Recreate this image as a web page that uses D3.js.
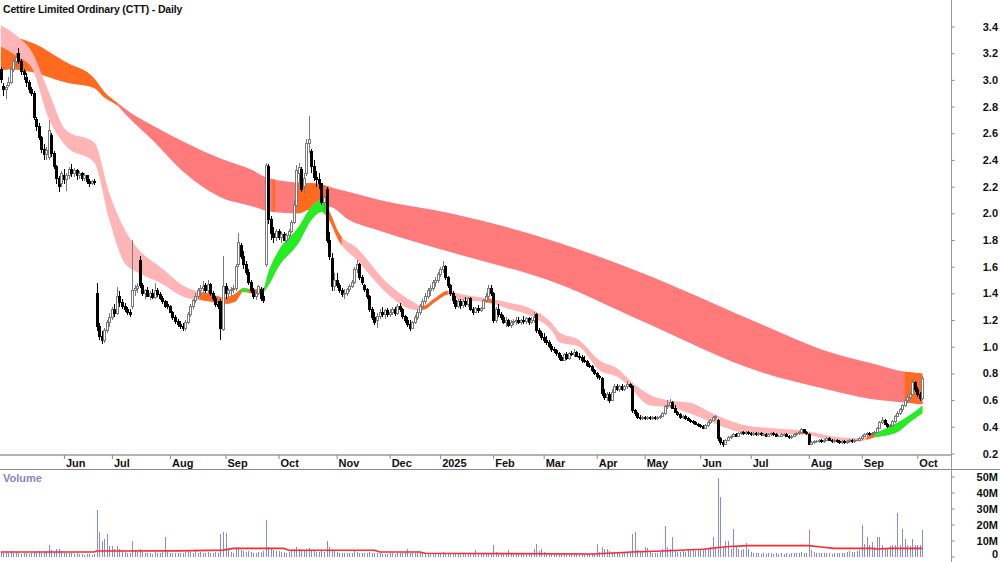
<!DOCTYPE html>
<html>
<head>
<meta charset="utf-8">
<script src="https://cdn.jsdelivr.net/npm/d3@7"></script>
<style>
  html, body { margin: 0; padding: 0; background: #fff; }
  #chart { width: 1000px; height: 562px; overflow: hidden; }
  svg { display: block; font-family: "Liberation Sans", Arial, sans-serif; }
</style>
</head>
<body>
<div id="chart"></div>
<script>
const title = "Cettire Limited Ordinary (CTT) - Daily";

//ASX holidays (no bars)
const holidays = ["2024-06-10", "2024-12-25", "2024-12-26", "2025-01-01", "2025-01-27",
  "2025-04-18", "2025-04-21", "2025-04-25", "2025-06-09"];

//daily bars: [open, high, low, close, volume (M)]
const bars2024Apr = [[3.08,3.10,2.98,3.00,3.0],[2.95,2.98,2.88,2.93,2.5]];
const bars2024May = [
  [2.93,2.96,2.86,2.94,2.0],[2.96,3.02,2.95,2.98,2.5],[2.98,3.10,2.97,3.08,3.5],[3.08,3.16,3.06,3.14,2.5],
  [3.14,3.20,3.10,3.17,3.0],[3.20,3.24,3.12,3.14,2.0],[3.14,3.16,3.04,3.06,1.8],[3.06,3.08,3.00,3.04,2.2],
  [3.02,3.05,2.95,2.98,2.5],[2.98,3.00,2.90,2.93,1.5],[2.93,2.95,2.88,2.90,2.0],[2.90,2.92,2.70,2.72,3.0],
  [2.70,2.72,2.62,2.65,2.5],[2.65,2.68,2.55,2.57,3.5],[2.57,2.58,2.45,2.48,2.0],[2.48,2.52,2.40,2.44,3.0],
  [2.44,2.50,2.40,2.47,3.5],[2.42,2.70,2.40,2.62,7.5],[2.58,2.60,2.42,2.45,4.0],[2.45,2.47,2.33,2.35,3.0],
  [2.35,2.36,2.22,2.26,5.0],[2.26,2.28,2.16,2.20,4.5],[2.22,2.32,2.20,2.30,3.5]];
const bars2024Jun = [
  [2.28,2.33,2.22,2.25,2.5],[2.25,2.30,2.17,2.28,2.0],[2.28,2.35,2.26,2.33,2.5],[2.33,2.37,2.27,2.30,3.0],
  [2.30,2.34,2.27,2.32,1.5],[2.32,2.33,2.25,2.28,2.0],[2.28,2.32,2.26,2.30,1.5],[2.30,2.31,2.24,2.26,1.8],
  [2.26,2.30,2.24,2.28,1.2],[2.28,2.29,2.22,2.24,1.5],[2.24,2.26,2.20,2.22,1.5],[2.22,2.25,2.21,2.24,1.2],
  [2.24,2.26,2.21,2.23,1.5],[1.40,1.48,1.12,1.15,29],[1.15,1.18,1.05,1.08,15.6],[1.08,1.12,1.02,1.05,9.5],
  [1.05,1.14,1.03,1.12,11],[1.12,1.20,1.10,1.18,13.8],[1.18,1.25,1.15,1.22,6.5]];
const bars2024Jul = [
  [1.22,1.30,1.20,1.28,6.5],[1.28,1.32,1.22,1.25,5.0],[1.25,1.45,1.24,1.38,6.5],[1.38,1.42,1.30,1.33,5.0],
  [1.33,1.36,1.28,1.30,3.5],[1.30,1.33,1.26,1.28,3.0],[1.28,1.30,1.24,1.26,2.5],[1.26,1.28,1.22,1.24,2.5],
  [1.30,1.80,1.28,1.42,10],[1.42,1.46,1.38,1.44,4.0],[1.44,1.48,1.40,1.45,3.0],[1.65,1.68,1.44,1.46,4.5],
  [1.46,1.48,1.38,1.40,3.0],[1.40,1.43,1.36,1.42,2.0],[1.42,1.45,1.37,1.38,2.5],[1.38,1.42,1.35,1.40,2.0],
  [1.40,1.43,1.36,1.37,1.8],[1.37,1.48,1.36,1.42,3.0],[1.42,1.44,1.37,1.39,2.0],[1.39,1.41,1.35,1.36,2.5],
  [1.36,1.38,1.32,1.34,3.0],[1.34,1.35,1.29,1.30,12.5],[1.32,1.34,1.28,1.30,3.0]];
const bars2024Aug = [
  [1.30,1.31,1.25,1.26,2.5],[1.26,1.27,1.20,1.22,2.0],[1.22,1.24,1.17,1.19,2.5],[1.19,1.21,1.15,1.17,2.0],
  [1.17,1.19,1.13,1.15,2.5],[1.15,1.18,1.12,1.14,2.0],[1.14,1.20,1.12,1.18,3.0],[1.18,1.26,1.17,1.24,3.5],
  [1.24,1.32,1.22,1.30,3.0],[1.30,1.36,1.28,1.35,2.5],[1.35,1.40,1.33,1.38,3.5],[1.38,1.44,1.36,1.42,2.5],
  [1.42,1.46,1.38,1.44,3.0],[1.44,1.49,1.40,1.45,2.5],[1.46,1.48,1.40,1.42,2.0],[1.42,1.50,1.40,1.47,3.0],
  [1.47,1.48,1.38,1.40,2.5],[1.40,1.42,1.34,1.36,2.0],[1.36,1.38,1.30,1.32,3.0],[1.32,1.34,1.28,1.30,2.5],
  [1.34,1.36,1.05,1.14,14],[1.13,1.68,1.12,1.45,15.5]];
const bars2024Sep = [
  [1.45,1.48,1.36,1.40,14.5],[1.40,1.44,1.37,1.42,4.0],[1.42,1.45,1.38,1.43,3.0],[1.43,1.46,1.40,1.44,2.5],
  [1.44,1.62,1.42,1.60,5.0],[1.62,1.85,1.60,1.78,6.0],[1.76,1.78,1.66,1.68,4.0],[1.68,1.72,1.58,1.62,3.5],
  [1.62,1.64,1.54,1.56,3.0],[1.56,1.58,1.46,1.48,3.5],[1.48,1.50,1.40,1.42,3.0],[1.42,1.44,1.36,1.38,2.5],
  [1.38,1.42,1.35,1.40,2.5],[1.40,1.46,1.39,1.45,3.0],[1.43,1.45,1.34,1.36,3.0],[1.38,1.44,1.33,1.35,3.5],
  [1.62,2.38,1.60,2.36,23],[2.35,2.37,1.92,1.95,6.0],[1.95,1.98,1.80,1.85,4.5],[1.85,1.90,1.78,1.82,4.0],
  [1.82,1.88,1.79,1.86,3.5]];
const bars2024Oct = [
  [1.86,1.88,1.80,1.82,3.5],[1.82,1.86,1.78,1.84,3.0],[1.84,1.86,1.79,1.80,3.0],[1.80,1.85,1.78,1.83,2.5],
  [1.83,1.88,1.81,1.86,3.0],[1.86,1.95,1.85,1.93,4.0],[1.93,2.10,1.92,2.06,4.5],[2.06,2.36,2.05,2.32,6.0],
  [2.30,2.38,2.22,2.34,5.0],[2.33,2.35,2.16,2.18,4.0],[2.20,2.30,2.15,2.26,3.5],[2.30,2.56,2.28,2.52,5.0],
  [2.52,2.73,2.45,2.55,5.5],[2.46,2.48,2.30,2.35,4.0],[2.35,2.40,2.24,2.27,3.5],[2.27,2.32,2.20,2.25,3.0],
  [2.25,2.30,2.18,2.22,3.0],[2.22,2.23,2.06,2.08,3.5],[2.08,2.14,2.02,2.12,3.0],[2.18,2.20,1.78,1.80,9.5],
  [1.80,1.86,1.65,1.68,6.0],[1.66,1.70,1.42,1.45,5.0],[1.45,1.55,1.42,1.50,3.5]];
const bars2024Nov = [
  [1.50,1.55,1.44,1.46,3.0],[1.46,1.48,1.40,1.42,2.5],[1.42,1.44,1.37,1.39,2.0],[1.39,1.43,1.36,1.40,2.0],
  [1.40,1.44,1.38,1.43,2.5],[1.43,1.47,1.41,1.45,2.0],[1.45,1.50,1.44,1.48,2.5],[1.48,1.60,1.47,1.58,3.5],
  [1.58,1.65,1.55,1.62,3.0],[1.62,1.63,1.50,1.52,2.5],[1.52,1.54,1.46,1.48,2.0],[1.46,1.47,1.41,1.43,2.0],
  [1.43,1.44,1.36,1.38,2.5],[1.38,1.39,1.26,1.28,3.0],[1.28,1.30,1.20,1.22,2.5],[1.22,1.26,1.16,1.18,2.5],
  [1.20,1.25,1.14,1.23,2.0],[1.23,1.28,1.21,1.26,2.0],[1.26,1.30,1.22,1.24,1.5],[1.24,1.28,1.21,1.27,1.8],
  [1.27,1.29,1.22,1.24,1.5]];
const bars2024Dec = [
  [1.24,1.28,1.22,1.26,2.0],[1.26,1.30,1.24,1.28,2.0],[1.28,1.30,1.23,1.25,1.5],[1.25,1.32,1.24,1.30,2.5],
  [1.30,1.33,1.26,1.28,2.0],[1.28,1.29,1.21,1.23,2.5],[1.23,1.24,1.18,1.20,3.0],[1.20,1.22,1.15,1.17,5.0],
  [1.17,1.20,1.12,1.14,2.5],[1.14,1.19,1.13,1.18,2.0],[1.18,1.24,1.17,1.22,2.5],[1.22,1.28,1.20,1.26,2.0],
  [1.26,1.32,1.24,1.30,2.5],[1.30,1.36,1.28,1.34,2.0],[1.34,1.40,1.32,1.38,2.5],[1.38,1.44,1.36,1.42,2.0],
  [1.42,1.46,1.38,1.44,1.5],[1.44,1.50,1.42,1.48,2.0],[1.48,1.52,1.45,1.50,1.5],[1.50,1.56,1.48,1.54,2.0]];
const bars2025Jan = [
  [1.54,1.60,1.52,1.58,2.5],[1.58,1.64,1.55,1.60,3.0],[1.60,1.61,1.50,1.52,2.5],[1.52,1.53,1.44,1.46,2.5],
  [1.46,1.47,1.38,1.40,2.0],[1.40,1.42,1.32,1.35,2.5],[1.35,1.38,1.28,1.30,2.0],[1.30,1.36,1.29,1.34,2.0],
  [1.34,1.36,1.28,1.31,1.5],[1.31,1.36,1.29,1.34,2.0],[1.34,1.37,1.30,1.32,1.5],[1.32,1.37,1.30,1.36,2.0],
  [1.36,1.37,1.27,1.28,2.5],[1.28,1.30,1.24,1.26,2.0],[1.26,1.30,1.25,1.29,4.0],[1.29,1.31,1.25,1.27,2.0],
  [1.27,1.30,1.26,1.29,1.5],[1.29,1.36,1.28,1.35,2.0],[1.35,1.40,1.33,1.38,2.5],[1.38,1.46,1.36,1.44,2.5],
  [1.44,1.46,1.38,1.40,2.0]];
const bars2025Feb = [
  [1.40,1.41,1.18,1.20,7.0],[1.20,1.30,1.18,1.28,3.0],[1.28,1.32,1.22,1.24,2.5],[1.24,1.26,1.20,1.22,2.0],
  [1.22,1.24,1.17,1.18,2.5],[1.18,1.22,1.15,1.20,2.0],[1.20,1.21,1.15,1.16,4.0],[1.16,1.20,1.14,1.18,2.0],
  [1.18,1.21,1.16,1.19,1.5],[1.19,1.22,1.16,1.20,2.0],[1.20,1.22,1.17,1.18,1.5],[1.18,1.21,1.16,1.20,2.0],
  [1.20,1.23,1.17,1.19,1.5],[1.19,1.22,1.17,1.21,2.0],[1.21,1.22,1.16,1.18,1.5],[1.18,1.22,1.17,1.20,2.0],
  [1.20,1.26,1.18,1.22,5.0],[1.24,1.25,1.10,1.12,8.0],[1.12,1.14,1.08,1.10,3.5],[1.10,1.12,1.05,1.07,5.0]];
const bars2025Mar = [
  [1.07,1.10,1.03,1.05,3.0],[1.05,1.08,1.01,1.03,2.5],[1.03,1.05,0.99,1.00,2.0],[1.00,1.02,0.96,0.98,2.5],
  [0.98,1.00,0.95,0.97,2.0],[0.97,0.98,0.93,0.95,2.0],[0.95,0.96,0.90,0.92,2.5],[0.92,0.94,0.89,0.90,2.0],
  [0.90,0.95,0.89,0.94,2.5],[0.94,0.96,0.90,0.91,1.5],[0.91,0.96,0.90,0.95,2.0],[0.95,0.97,0.93,0.94,1.5],
  [0.94,0.98,0.92,0.96,2.0],[0.96,0.97,0.92,0.93,1.5],[0.93,0.95,0.90,0.92,1.5],[0.92,0.94,0.88,0.90,2.0],
  [0.90,0.93,0.88,0.89,1.5],[0.89,0.90,0.85,0.86,2.0],[0.86,0.88,0.84,0.85,1.5],[0.85,0.86,0.81,0.82,2.0],
  [0.82,0.83,0.79,0.80,2.5]];
const bars2025Apr = [
  [0.80,0.81,0.76,0.78,8.0],[0.78,0.79,0.75,0.77,3.0],[0.76,0.77,0.63,0.65,6.0],[0.65,0.68,0.60,0.62,5.0],
  [0.62,0.66,0.59,0.64,5.0],[0.64,0.66,0.58,0.60,3.5],[0.60,0.68,0.59,0.66,3.0],[0.66,0.72,0.65,0.70,3.0],
  [0.70,0.72,0.67,0.68,2.5],[0.68,0.71,0.66,0.70,2.0],[0.70,0.72,0.67,0.68,2.0],[0.68,0.71,0.67,0.70,2.0],
  [0.70,0.74,0.68,0.72,2.5],[0.72,0.73,0.69,0.70,2.0],[0.70,0.71,0.50,0.52,14],[0.52,0.53,0.48,0.50,15.5],
  [0.50,0.51,0.46,0.47,4.0],[0.47,0.49,0.45,0.46,3.0],[0.46,0.48,0.45,0.47,3.5]];
const bars2025May = [
  [0.47,0.48,0.45,0.46,6.0],[0.46,0.48,0.45,0.47,5.5],[0.47,0.48,0.45,0.46,3.0],[0.46,0.48,0.45,0.47,2.5],
  [0.47,0.48,0.45,0.46,2.0],[0.46,0.48,0.45,0.47,2.5],[0.47,0.49,0.46,0.48,3.0],[0.48,0.51,0.47,0.50,4.5],
  [0.50,0.56,0.49,0.55,19],[0.55,0.60,0.53,0.56,6.0],[0.56,0.61,0.54,0.58,5.0],[0.58,0.59,0.53,0.54,12.5],
  [0.54,0.56,0.50,0.51,4.0],[0.51,0.52,0.48,0.49,3.0],[0.49,0.50,0.46,0.47,3.0],[0.47,0.49,0.46,0.48,3.5],
  [0.48,0.49,0.45,0.46,3.0],[0.46,0.47,0.44,0.45,4.0],[0.45,0.46,0.43,0.44,3.5],[0.44,0.45,0.42,0.43,4.0],
  [0.43,0.44,0.41,0.42,3.5],[0.42,0.43,0.40,0.41,4.0]];
const bars2025Jun = [
  [0.41,0.42,0.39,0.40,4.5],[0.40,0.41,0.38,0.39,4.0],[0.39,0.42,0.38,0.41,4.5],[0.41,0.44,0.40,0.43,5.0],
  [0.43,0.46,0.42,0.45,6.0],[0.45,0.48,0.44,0.47,12],[0.47,0.49,0.45,0.48,6.0],[0.45,0.46,0.29,0.31,49],
  [0.31,0.32,0.26,0.28,37],[0.28,0.30,0.25,0.27,6.0],[0.27,0.31,0.26,0.30,10],[0.30,0.33,0.29,0.32,10],
  [0.32,0.34,0.31,0.33,5.0],[0.33,0.35,0.32,0.34,17.5],[0.34,0.35,0.32,0.33,6.0],[0.33,0.36,0.32,0.35,5.0],
  [0.35,0.37,0.34,0.36,4.0],[0.36,0.37,0.34,0.35,4.5],[0.35,0.37,0.34,0.36,8.5],[0.36,0.37,0.34,0.35,5.0]];
const bars2025Jul = [
  [0.35,0.36,0.33,0.34,3.0],[0.34,0.36,0.33,0.35,2.5],[0.35,0.36,0.33,0.34,2.0],[0.34,0.36,0.33,0.35,2.5],
  [0.35,0.36,0.33,0.34,1.5],[0.34,0.35,0.33,0.34,2.0],[0.34,0.35,0.32,0.33,1.5],[0.33,0.35,0.32,0.34,2.0],
  [0.34,0.36,0.33,0.35,2.5],[0.35,0.36,0.33,0.34,1.5],[0.34,0.35,0.32,0.33,2.0],[0.33,0.34,0.32,0.33,1.5],
  [0.33,0.35,0.32,0.34,2.0],[0.34,0.35,0.33,0.34,1.5],[0.34,0.35,0.32,0.33,2.0],[0.33,0.34,0.31,0.32,1.5],
  [0.32,0.34,0.31,0.33,2.0],[0.33,0.35,0.32,0.34,2.5],[0.34,0.36,0.33,0.35,2.0],[0.35,0.37,0.34,0.36,2.5],
  [0.36,0.39,0.35,0.38,3.0],[0.38,0.38,0.35,0.36,2.5],[0.36,0.37,0.34,0.35,2.0]];
const bars2025Aug = [
  [0.34,0.35,0.26,0.27,16.5],[0.27,0.29,0.26,0.28,4.0],[0.28,0.30,0.27,0.29,3.0],[0.29,0.30,0.28,0.29,2.5],
  [0.29,0.31,0.28,0.30,2.0],[0.30,0.31,0.28,0.29,2.5],[0.29,0.31,0.28,0.30,2.0],[0.30,0.32,0.29,0.31,2.5],
  [0.31,0.32,0.29,0.30,2.0],[0.30,0.31,0.28,0.29,1.5],[0.29,0.31,0.28,0.30,2.0],[0.30,0.31,0.28,0.29,2.5],
  [0.29,0.30,0.27,0.28,2.0],[0.28,0.30,0.27,0.29,2.0],[0.29,0.30,0.27,0.28,2.5],[0.28,0.30,0.27,0.29,3.0],
  [0.29,0.31,0.28,0.30,3.5],[0.30,0.31,0.28,0.29,3.0],[0.29,0.31,0.28,0.30,3.0],[0.30,0.31,0.29,0.30,3.5],
  [0.30,0.32,0.29,0.31,4.0]];
const bars2025Sep = [
  [0.31,0.34,0.30,0.33,19.5],[0.33,0.35,0.32,0.34,8.0],[0.34,0.36,0.33,0.35,12],[0.35,0.36,0.33,0.34,7.0],
  [0.34,0.36,0.33,0.35,9.0],[0.35,0.37,0.34,0.36,6.0],[0.36,0.40,0.35,0.39,12],[0.39,0.44,0.38,0.43,12],
  [0.43,0.47,0.42,0.45,7.0],[0.45,0.46,0.41,0.42,5.5],[0.42,0.43,0.39,0.40,5.5],[0.40,0.42,0.39,0.41,6.5],
  [0.41,0.45,0.40,0.44,7.0],[0.44,0.49,0.43,0.48,7.5],[0.48,0.52,0.47,0.50,27],[0.50,0.54,0.49,0.53,7.5],
  [0.53,0.57,0.51,0.56,17.5],[0.56,0.61,0.55,0.60,11],[0.60,0.64,0.58,0.62,7.5],[0.62,0.66,0.60,0.64,6.5],
  [0.64,0.76,0.63,0.73,11],[0.73,0.74,0.66,0.68,7.0]];
const bars2025Oct = [[0.68,0.70,0.62,0.64,7.5],[0.64,0.66,0.59,0.61,7.0],[0.61,0.78,0.60,0.76,16.5]];

//guppy ribbons: [bar index, upper, lower]
const longBand = [
  [0,3.24,3.07],[4,3.32,3.08],[12,3.28,3.06],[26,3.13,2.98],[37,3.01,2.94],[41,2.91,2.87],
  [46,2.83,2.81],[51,2.76,2.71],[60,2.66,2.55],[73,2.53,2.30],[87,2.41,2.12],[100,2.32,2.05],
  [105,2.27,2.02],[117,2.23,2.00],[126,2.22,2.05],[130,2.20,2.05],[138,2.16,1.95],[150,2.10,1.87],
  [178,2.00,1.71],[221,1.78,1.47],[253,1.56,1.20],[301,1.17,0.81],[325,0.98,0.69],[344,0.88,0.61],
  [359,0.81,0.58],[365,0.80,0.57]];
const shortBand = [
  [0,3.41,3.25],[7,3.32,3.17],[12,3.22,3.10],[19,2.91,2.71],[26,2.62,2.50],[37,2.53,2.38],
  [43,2.15,1.95],[49,1.88,1.63],[55,1.72,1.55],[63,1.60,1.48],[73,1.45,1.37],[79,1.41,1.35],
  [83,1.40,1.34],[88,1.37,1.32],[93,1.40,1.34],[96,1.44,1.41],[100,1.43,1.40],[104,1.44,1.41],
  [106,1.56,1.46],[110,1.72,1.60],[118,1.90,1.78],[123,2.05,1.95],[127,2.10,2.01],[130,2.02,1.95],
  [134,1.85,1.79],[141,1.74,1.65],[153,1.48,1.40],[163,1.34,1.28],[167,1.305,1.275],[172,1.365,1.335],
  [177,1.42,1.39],[182,1.395,1.35],[192,1.365,1.335],[200,1.335,1.29],[211,1.275,1.22],[219,1.16,1.10],
  [221,1.11,1.035],[229,1.05,1.00],[237,0.90,0.825],[245,0.825,0.765],[249,0.75,0.70],[257,0.64,0.56],
  [264,0.60,0.55],[273,0.58,0.50],[282,0.50,0.43],[293,0.42,0.36],[305,0.39,0.345],[317,0.375,0.345],
  [333,0.32,0.285],[340,0.315,0.29],[346,0.35,0.32],[355,0.43,0.36],[361,0.50,0.45],[365,0.56,0.50]];

//ribbon colour changes: [from bar, to bar, state]
const longBandStates = [[0,46,"mixed"],[107.6,108.6,"mixed"],[117,130,"mixed"],[358,366,"mixed"]];
const shortBandStates = [
  [78.6,87.3,"mixed"],[88.9,95.2,"mixed"],[95.2,98,"up"],[98,103.6,"mixed"],[103.6,129,"up"],
  [129,135,"mixed"],[167,177,"mixed"],[191.7,194.8,"mixed"],[316.7,319,"mixed"],[342.9,346,"mixed"],
  [346,366,"up"]];

//volume moving average: [bar index, M]
const volumeAvg = [
  [0,2.8],[37,2.8],[38,3.4],[70,3.5],[88,4.0],[92,5.1],[112,5.1],[114,3.9],[148,3.9],[150,2.8],
  [166,2.8],[168,2.0],[200,1.8],[235,1.6],[250,2.8],[262,3.4],[278,4.5],[287,6.1],[296,6.8],
  [320,6.8],[324,6.1],[330,5.1],[345,5.1],[347,4.7],[352,5.1],[365,5.1]];

const priceTicks = [0.2,0.4,0.6,0.8,1.0,1.2,1.4,1.6,1.8,2.0,2.2,2.4,2.6,2.8,3.0,3.2,3.4];
const volumeTicks = [0,10,20,30,40,50];

const palette = {
  longDown: "#ff7b7b",
  shortDown: "#ffb5b5",
  mixed: "#ff6a1f",
  up: "#22ee22",
};

class GuppyChart {
  constructor(_parentNodeId) {
    this.container = d3.select(`#${_parentNodeId}`);
    this.data = this.dataWrangling();
    this.initVis();
  }

  initVis() {
    const width = 1000;
    const height = 562;
    this.axisX = 951.5;

    //scales
    this.x = d3.scaleLinear().domain([0, this.data.length - 1]).range([0.8, 922.4]);
    this.y = d3.scaleLinear().domain([0.2, 3.4]).range([453.5, 26.5]);
    this.yVol = d3.scaleLinear().domain([0, 50]).range([556.5, 476.5]);

    this.svg = this.container
        .append("svg")
        .attr("width", width)
        .attr("height", height)
        .attr("viewBox", [0, 0, width, height]);
    this.defs = this.svg.append("defs");

    //ribbons, long first then short
    this.ribbon(longBand, longBandStates, palette.longDown, "long");
    this.ribbon(shortBand, shortBandStates, palette.shortDown, "short");

    this.candles();
    this.volume();
    this.axes();

    this.svg.append("text")
        .attr("x", 3)
        .attr("y", 12.5)
        .attr("font-size", 10.5)
        .attr("font-weight", "bold")
        .attr("letter-spacing", -0.15)
        .attr("fill", "#111")
        .text(title);
  }

  ribbon(data, states, baseColour, name) {
    const area = d3.area()
        .curve(d3.curveMonotoneX)
        .x((d) => this.x(d[0]))
        .y0((d) => this.y(d[2]))
        .y1((d) => this.y(d[1]));

    const g = this.svg.append("g").attr("class", `ribbon ${name}`);
    g.append("path").attr("d", area(data)).attr("fill", baseColour);

    states.forEach((s, k) => {
      const id = `clip-${name}-${k}`;
      const x0 = this.x(s[0]);
      const x1 = Math.min(this.x(s[1]), 940);
      this.defs.append("clipPath").attr("id", id)
          .append("rect")
          .attr("x", x0).attr("y", 0)
          .attr("width", x1 - x0).attr("height", 460);
      g.append("path")
          .attr("d", area(data))
          .attr("fill", palette[s[2]])
          .attr("clip-path", `url(#${id})`);
    });
  }

  candles() {
    const cx = (d) => Math.round(this.x(d.i));
    const isUp = (d) => d.close >= d.open;

    const item = this.svg.append("g")
        .attr("class", "candles")
        .attr("shape-rendering", "crispEdges")
        .selectAll("g.bar")
        .data(this.data)
        .join("g")
        .attr("class", "bar");

    item.append("line")
        .attr("x1", (d) => cx(d) + 0.5)
        .attr("x2", (d) => cx(d) + 0.5)
        .attr("y1", (d) => this.y(d.high))
        .attr("y2", (d) => this.y(d.low))
        .attr("stroke", (d) => (isUp(d) ? "#7a7a7a" : "#000"));

    item.append("rect")
        .attr("x", (d) => cx(d) - 0.5)
        .attr("width", 2)
        .attr("y", (d) => this.y(Math.max(d.open, d.close)))
        .attr("height", (d) => Math.max(0.5, Math.abs(this.y(d.open) - this.y(d.close))))
        .attr("fill", (d) => (isUp(d) ? "#fff" : "#000"))
        .attr("stroke", (d) => (isUp(d) ? "#7a7a7a" : "#000"));
  }

  volume() {
    this.svg.append("g")
        .attr("class", "volume")
        .attr("shape-rendering", "crispEdges")
        .selectAll("line")
        .data(this.data)
        .join("line")
        .attr("x1", (d) => Math.round(this.x(d.i)) + 0.5)
        .attr("x2", (d) => Math.round(this.x(d.i)) + 0.5)
        .attr("y1", this.yVol(0))
        .attr("y2", (d) => this.yVol(d.volume))
        .attr("stroke", "#8a8ad6");

    const line = d3.line()
        .x((d) => this.x(d[0]))
        .y((d) => this.yVol(d[1]));

    this.svg.append("path")
        .attr("d", line(volumeAvg))
        .attr("fill", "none")
        .attr("stroke", "#ff2a2a")
        .attr("stroke-width", 1.6);

    this.svg.append("text")
        .attr("x", 3)
        .attr("y", 482)
        .attr("font-size", 11)
        .attr("font-weight", "bold")
        .attr("fill", "#8686c2")
        .text("Volume");
  }

  axes() {
    const font = '"Liberation Sans", Arial, sans-serif';

    //frame lines
    this.svg.append("line")
        .attr("x1", 0).attr("x2", this.axisX)
        .attr("y1", 455).attr("y2", 455)
        .attr("stroke", "#9a9a9a").attr("stroke-width", 1.5);
    this.svg.append("line")
        .attr("x1", 0).attr("x2", 1000)
        .attr("y1", 469.5).attr("y2", 469.5)
        .attr("stroke", "#8a8a8a");
    this.svg.append("line")
        .attr("x1", this.axisX).attr("x2", this.axisX)
        .attr("y1", 0).attr("y2", 562)
        .attr("stroke", "#9a9a9a");

    //month ticks at the first bar of each month (the partial first month is left out)
    const monthStarts = this.data
        .filter((d, i) => i > 0 && d.date.getMonth() !== this.data[i - 1].date.getMonth())
        .filter((d) => d.i > 10);
    const label = (i) => {
      const date = this.data[i].date;
      return date.getMonth() === 0 ? d3.timeFormat("%Y")(date) : d3.timeFormat("%b")(date);
    };

    const gx = this.svg.append("g")
        .attr("transform", "translate(0,455)")
        .call(d3.axisBottom(this.x)
            .tickValues(monthStarts.map((d) => d.i))
            .tickSize(4)
            .tickPadding(0)
            .tickFormat(label));
    gx.select(".domain").remove();
    gx.selectAll(".tick line").attr("stroke", "#8a8a8a");
    gx.selectAll(".tick text")
        .attr("text-anchor", "start")
        .attr("x", 1.5)
        .attr("font-size", 11)
        .attr("font-weight", "bold")
        .attr("font-family", font)
        .attr("fill", "#111");

    //price axis
    const gy = this.svg.append("g")
        .attr("transform", `translate(${this.axisX},0)`)
        .call(d3.axisRight(this.y)
            .tickValues(priceTicks)
            .tickSize(3)
            .tickFormat(d3.format(".1f")));
    gy.select(".domain").remove();

    //volume axis
    const gv = this.svg.append("g")
        .attr("transform", `translate(${this.axisX},0)`)
        .call(d3.axisRight(this.yVol)
            .tickValues(volumeTicks)
            .tickSize(3)
            .tickFormat((d) => (d === 0 ? "0" : `${d}M`)));
    gv.select(".domain").remove();
    gv.select(".tick:first-of-type text").attr("dy", "0.1em");

    [gy, gv].forEach((g) => {
      g.selectAll(".tick line").attr("stroke", "#8a8a8a");
      g.selectAll(".tick text")
          .attr("text-anchor", "end")
          .attr("x", 46.5)
          .attr("font-size", 11)
          .attr("font-weight", "bold")
          .attr("font-family", font)
          .attr("fill", "#111");
    });
  }

  dataWrangling() {
    const rows = [
      bars2024Apr, bars2024May, bars2024Jun, bars2024Jul, bars2024Aug, bars2024Sep,
      bars2024Oct, bars2024Nov, bars2024Dec, bars2025Jan, bars2025Feb, bars2025Mar,
      bars2025Apr, bars2025May, bars2025Jun, bars2025Jul, bars2025Aug, bars2025Sep, bars2025Oct,
    ].flat();

    //trading days: weekdays without exchange holidays
    const fmt = d3.timeFormat("%Y-%m-%d");
    const closed = new Set(holidays);
    const days = d3.timeDay
        .range(new Date(2024, 3, 29), new Date(2025, 9, 4))
        .filter((d) => d.getDay() % 6 !== 0 && !closed.has(fmt(d)));

    return rows.map((r, i) => ({
      i,
      date: days[i],
      open: r[0],
      high: r[1],
      low: r[2],
      close: r[3],
      volume: r[4],
    }));
  }
}

new GuppyChart("chart");
</script>
</body>
</html>
